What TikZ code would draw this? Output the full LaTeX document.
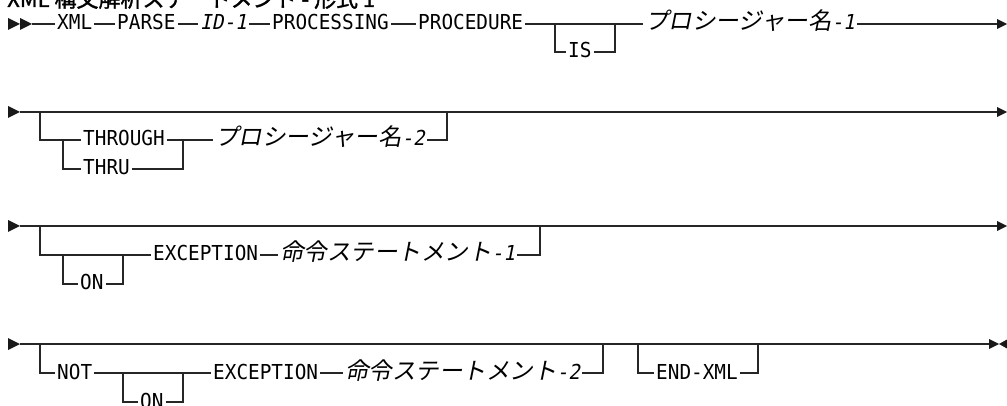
\documentclass[tikz,border=0pt]{standalone}
\usepackage{fontspec}
\newfontfamily\kwfont[FakeStretch=0.94]{DejaVu Sans Mono}
\newfontfamily\kwit[FakeStretch=0.94,FakeSlant=0.2]{DejaVu Sans Mono}
\newfontfamily\jpfont[FakeSlant=0.2]{Noto Sans CJK JP}
\newfontfamily\jptitle[FakeBold=1.5]{Noto Sans CJK JP}
\newcommand{\jvar}[2]{{\jpfont #1}{\kwit\fontsize{20.6}{24}\selectfont #2}}

\begin{document}
\begin{tikzpicture}[x=1pt, y=-1pt,
  rail/.style={line width=1.2pt, draw=black!85},
  railtip/.style={fill=black!90},
  kw/.style={font=\kwfont\fontsize{20.6}{24}\selectfont, inner xsep=2pt, inner ysep=0pt,
    text height=15pt, text depth=3pt, anchor=west},
  var/.style={kw, font=\fontsize{23.5}{26}\selectfont}]
  \useasboundingbox (0,0) rectangle (1007,406);

  % 見出し（上端で切れている）
  \node[anchor=base west, inner sep=0pt, font=\jptitle\fontsize{22}{24}\selectfont] (title)
    at (7,7) {XML 構文解析ステートメント - 形式 1};

  % 1 行目
  \fill[railtip] (8,18) -- (20,24) -- (8,30) -- cycle;
  \fill[railtip] (20,18) -- (32,24) -- (20,30) -- cycle;
  \coordinate (r1s) at (32,24);
  \coordinate (r1e) at (998,24);
  \node[kw] (xml) at (55,24) {XML};
  \node[kw] (parse) at (115,24) {PARSE};
  \node[kw] (id1) at (198,24) {\kwit ID-1};
  \node[kw] (proc) at (270,24) {PROCESSING};
  \node[kw] (procd) at (416,24) {PROCEDURE};
  \node[kw] (is) at (566,52) {IS};
  \node[var] (pn1) at (643,24) {\jvar{プロシージャー名}{-1}};
  \draw[rail] (r1s) -- (xml) -- (parse) -- (id1) -- (proc) -- (procd) -- (pn1) -- (r1e);
  \coordinate (isL) at (555,24);
  \coordinate (isR) at (615,24);
  \draw[rail] (isL) |- (is.west);
  \draw[rail] (is.east) -| (isR);
  \fill[railtip] (997,19) -- (1007,24) -- (997,29) -- cycle;

  % 2 行目
  \fill[railtip] (8,106) -- (20,112) -- (8,118) -- cycle;
  \coordinate (r2s) at (20,112);
  \coordinate (r2e) at (998,112);
  \draw[rail] (r2s) -- (r2e);
  \node[kw] (thro) at (81,140) {THROUGH};
  \node[kw] (thru) at (81,169) {THRU};
  \node[var] (pn2) at (213,140) {\jvar{プロシージャー名}{-2}};
  \coordinate (thL) at (40,112);
  \coordinate (thS) at (63,140);
  \coordinate (thJ) at (183,140);
  \coordinate (thR) at (447,112);
  \draw[rail] (thL) |- (thro.west);
  \draw[rail] (thS) |- (thru.west);
  \draw[rail] (thru.east) -| (thJ);
  \draw[rail] (thro) -- (pn2);
  \draw[rail] (pn2.east) -| (thR);
  \fill[railtip] (997,107) -- (1007,112) -- (997,117) -- cycle;

  % 3 行目
  \fill[railtip] (8,220) -- (20,226) -- (8,232) -- cycle;
  \coordinate (r3s) at (20,226);
  \coordinate (r3e) at (998,226);
  \draw[rail] (r3s) -- (r3e);
  \node[kw] (on1) at (78,284) {ON};
  \node[kw] (exc1) at (151,255) {EXCEPTION};
  \node[var] (stm1) at (278,255) {\jvar{命令ステートメント}{-1}};
  \coordinate (exL) at (40,226);
  \coordinate (onL) at (63,255);
  \coordinate (onR) at (123,255);
  \coordinate (exR) at (540,226);
  \draw[rail] (exL) |- (exc1.west);
  \draw[rail] (onL) |- (on1.west);
  \draw[rail] (on1.east) -| (onR);
  \draw[rail] (exc1) -- (stm1);
  \draw[rail] (stm1.east) -| (exR);
  \fill[railtip] (997,221) -- (1007,226) -- (997,231) -- cycle;

  % 4 行目
  \fill[railtip] (8,338) -- (20,344) -- (8,350) -- cycle;
  \coordinate (r4s) at (20,344);
  \coordinate (r4e) at (990,344);
  \draw[rail] (r4s) -- (r4e);
  \node[kw] (not) at (55,373) {NOT};
  \node[kw] (on2) at (138,402) {ON};
  \node[kw] (exc2) at (211,373) {EXCEPTION};
  \node[var] (stm2) at (343,373) {\jvar{命令ステートメント}{-2}};
  \node[kw] (endx) at (654,373) {END-XML};
  \coordinate (neL) at (40,344);
  \coordinate (on2L) at (123,373);
  \coordinate (on2R) at (183,373);
  \coordinate (neR) at (603,344);
  \coordinate (enL) at (638,344);
  \coordinate (enR) at (758,344);
  \draw[rail] (neL) |- (not.west);
  \draw[rail] (not) -- (exc2) -- (stm2);
  \draw[rail] (on2L) |- (on2.west);
  \draw[rail] (on2.east) -| (on2R);
  \draw[rail] (stm2.east) -| (neR);
  \draw[rail] (enL) |- (endx.west);
  \draw[rail] (endx.east) -| (enR);
  \fill[railtip] (989,339) -- (999,344) -- (989,349) -- cycle;
  \fill[railtip] (1007,339.5) -- (999,344) -- (1007,348.5) -- cycle;
\end{tikzpicture}
\end{document}
